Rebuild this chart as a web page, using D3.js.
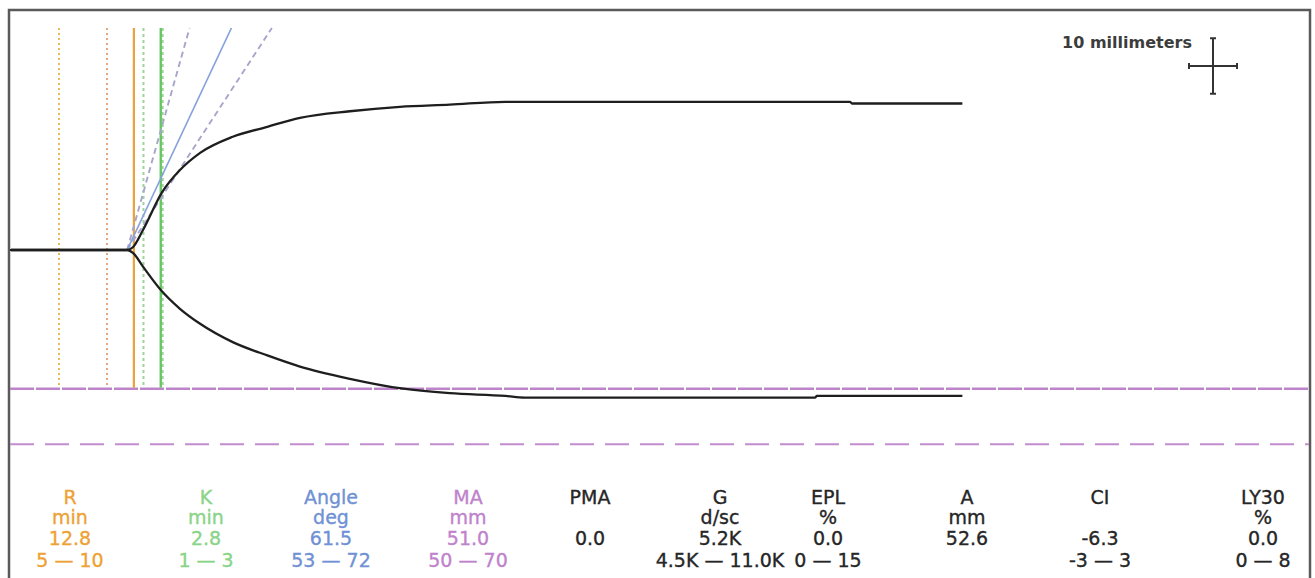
<!DOCTYPE html>
<html>
<head>
<meta charset="utf-8">
<script src="https://cdn.jsdelivr.net/npm/d3@7"></script>
<style>
  html, body { margin: 0; padding: 0; background: #fff; }
  svg { display: block; }
  .param text { font-family: "DejaVu Sans", Verdana, sans-serif; font-size: 19px; text-anchor: middle; stroke-width: 0.35px; }
</style>
</head>
<body>
<svg id="teg" width="1315" height="578"></svg>
<script>
// ============================================
// TEG TRACE DATA
// ============================================

// time in minutes
const times   = [0, 12.1, 12.7, 13.75, 15.7, 17.6, 19.7, 23.1, 26.7, 30.1, 35.3, 40.5, 45.7, 51.5, 53.5, 83.75, 83.95, 87.4, 87.6, 99.1];
// deflection above / below the baseline, in mm
const upperMm = [0, 0, 0.5, 3.6, 10.3, 14.4, 17.5, 20.4, 22.2, 23.8, 25.0, 25.8, 26.2, 26.7, 26.7, 26.7, 26.7, 26.7, 26.4, 26.4];
const lowerMm = [0, 0, 0.5, 3.0, 7.4, 10.6, 13.3, 16.6, 19.0, 21.0, 23.2, 24.9, 25.8, 26.3, 26.6, 26.6, 26.3, 26.3, 26.3, 26.3];

// reference values
const rValue = 12.8;
const rRange = [5, 10];
const kValue = 2.8;
const kRange = [1, 3];
const angleValue = 61.5;
const angleRange = [53, 72];
const maRange = [50, 70];

// parameter table
const paramNames  = ["R", "K", "Angle", "MA", "PMA", "G", "EPL", "A", "CI", "LY30"];
const paramUnits  = ["min", "min", "deg", "mm", "", "d/sc", "%", "mm", "", "%"];
const paramValues = ["12.8", "2.8", "61.5", "51.0", "0.0", "5.2K", "0.0", "52.6", "-6.3", "0.0"];
const paramRanges = ["5 \u2014 10", "1 \u2014 3", "53 \u2014 72", "50 \u2014 70", "", "4.5K \u2014 11.0K", "0 \u2014 15", "", "-3 \u2014 3", "0 \u2014 8"];

// ============================================
// LAYOUT
// ============================================

const colX = [70, 206, 331, 468, 590, 720, 828, 967, 1100, 1263];
const rowY = [504, 524, 545, 567];
const paramColors = ["#eea235", "#8ad487", "#6f91d4", "#bf82cc", "#262626", "#262626", "#262626", "#262626", "#262626", "#262626"];

const colors = {
    frame: '#5a5a5a',
    trace: '#1e1e1e',
    rDotted: '#e8bb55',
    rDotted2: '#e6a57c',
    rSolid: '#eba23c',
    kDashed: '#9bd698',
    kSolid: '#66c664',
    angleSolid: '#86a2dc',
    angleDashed: '#a8a5cc',
    ma: '#c28dcf'
};

const plotTop = 28;
const svg = d3.select('#teg');

// 2 mm of paper per minute, 5.55 px per mm vertically
const x = d3.scaleLinear().domain([0, 100]).range([11, 971]);
const y = d3.scaleLinear().domain([-35, 35]).range([444.25, 55.75]);
const mmPerMin = 2;

// ============================================
// FRAME
// ============================================

svg.append('rect')
    .attr('x', 9).attr('y', 10)
    .attr('width', 1301).attr('height', 600)
    .attr('fill', 'none')
    .attr('stroke', colors.frame)
    .attr('stroke-width', 2.5);

// ============================================
// MA RANGE LINES
// ============================================

svg.append('line')
    .attr('x1', 10).attr('x2', 1309)
    .attr('y1', y(-maRange[0] / 2)).attr('y2', y(-maRange[0] / 2))
    .attr('stroke', '#bd84cb').attr('stroke-width', 2.4)
    .attr('stroke-dasharray', '24,2');

svg.append('line')
    .attr('x1', 10).attr('x2', 1309)
    .attr('y1', y(-maRange[1] / 2)).attr('y2', y(-maRange[1] / 2))
    .attr('stroke', colors.ma).attr('stroke-width', 2.2)
    .attr('stroke-dasharray', '24,11');

// ============================================
// R / K MARKERS
// ============================================

const vBottom = y(-maRange[0] / 2) - 1;
const markers = [
    { t: rRange[0], color: colors.rDotted, dash: '2,3', w: 2 },
    { t: rRange[1], color: colors.rDotted2, dash: '2,3', w: 2 },
    { t: rValue, color: colors.rSolid, dash: null, w: 2.2 },
    { t: rValue + kRange[0], color: colors.kDashed, dash: '3,3', w: 2 },
    { t: rValue + kRange[1], color: colors.kDashed, dash: '3,3', w: 2 },
    { t: rValue + kValue, color: colors.kSolid, dash: null, w: 2.4 }
];

svg.selectAll('.marker')
    .data(markers)
    .enter()
    .append('line')
    .attr('class', 'marker')
    .attr('x1', d => x(d.t)).attr('x2', d => x(d.t))
    .attr('y1', plotTop).attr('y2', vBottom)
    .attr('stroke', d => d.color)
    .attr('stroke-width', d => d.w)
    .attr('stroke-dasharray', d => d.dash);

// ============================================
// ANGLE LINES
// ============================================

// angle lines start where the trace leaves the baseline
const splitIndex = d3.max(times.map((t, i) => (upperMm[i] === 0 && lowerMm[i] === 0) ? i : 0));
const t0 = times[splitIndex];
const topMm = y.invert(plotTop);

const angles = [
    { a: angleRange[0], color: colors.angleDashed, dash: '6,4', w: 1.9 },
    { a: angleRange[1], color: colors.angleDashed, dash: '6,4', w: 1.9 },
    { a: angleValue, color: colors.angleSolid, dash: null, w: 1.7 }
];

svg.selectAll('.angle')
    .data(angles)
    .enter()
    .append('line')
    .attr('class', 'angle')
    .attr('x1', x(t0)).attr('y1', y(0))
    .attr('x2', d => x(t0 + topMm / Math.tan(d.a * Math.PI / 180) / mmPerMin))
    .attr('y2', y(topMm))
    .attr('stroke', d => d.color)
    .attr('stroke-width', d => d.w)
    .attr('stroke-dasharray', d => d.dash);

// ============================================
// TRACE
// ============================================

const traceLine = d3.line()
    .x((d, i) => x(times[i]))
    .y(d => y(d))
    .curve(d3.curveMonotoneX);

// baseline runs in from the frame edge
svg.append('line')
    .attr('x1', 10).attr('x2', x(0))
    .attr('y1', y(0)).attr('y2', y(0))
    .attr('stroke', colors.trace)
    .attr('stroke-width', 2.2);

svg.append('path')
    .datum(upperMm)
    .attr('d', traceLine)
    .attr('fill', 'none')
    .attr('stroke', colors.trace)
    .attr('stroke-width', 2.3);

svg.append('path')
    .datum(lowerMm.map(v => -v))
    .attr('d', traceLine)
    .attr('fill', 'none')
    .attr('stroke', colors.trace)
    .attr('stroke-width', 2.3);

// ============================================
// SCALE BAR (10 mm)
// ============================================

const barCx = 1213, barCy = 66;
const halfV = Math.abs(y(10) - y(0)) / 2;
const halfH = (x(10 / mmPerMin) - x(0)) / 2;
const bar = svg.append('g')
    .attr('stroke', '#333')
    .attr('stroke-width', 2);

bar.append('line').attr('x1', barCx).attr('x2', barCx).attr('y1', barCy - halfV).attr('y2', barCy + halfV);
bar.append('line').attr('x1', barCx - halfH).attr('x2', barCx + halfH).attr('y1', barCy).attr('y2', barCy);
bar.append('line').attr('x1', barCx - 3).attr('x2', barCx + 3).attr('y1', barCy - halfV).attr('y2', barCy - halfV);
bar.append('line').attr('x1', barCx - 3).attr('x2', barCx + 3).attr('y1', barCy + halfV).attr('y2', barCy + halfV);
bar.append('line').attr('x1', barCx - halfH).attr('x2', barCx - halfH).attr('y1', barCy - 3).attr('y2', barCy + 3);
bar.append('line').attr('x1', barCx + halfH).attr('x2', barCx + halfH).attr('y1', barCy - 3).attr('y2', barCy + 3);

svg.append('text')
    .attr('x', 1192).attr('y', 48)
    .attr('text-anchor', 'end')
    .attr('font-family', '"DejaVu Sans", Verdana, sans-serif')
    .attr('font-size', '16px')
    .attr('font-weight', 'bold')
    .attr('fill', '#3c3c3c')
    .text('10 millimeters');

// ============================================
// PARAMETER TABLE
// ============================================

const params = paramNames.map((name, i) => ({
    name: name,
    rows: [name, paramUnits[i], paramValues[i], paramRanges[i]],
    x: colX[i],
    color: paramColors[i]
}));

const cols = svg.selectAll('.param')
    .data(params)
    .enter()
    .append('g')
    .attr('class', 'param')
    .attr('transform', d => `translate(${d.x},0)`)
    .attr('fill', d => d.color)
    .attr('stroke', d => d.color);

cols.selectAll('text')
    .data(d => d.rows)
    .enter()
    .append('text')
    .attr('x', 0)
    .attr('y', (d, i) => rowY[i])
    .text(d => d);
</script>
</body>
</html>
